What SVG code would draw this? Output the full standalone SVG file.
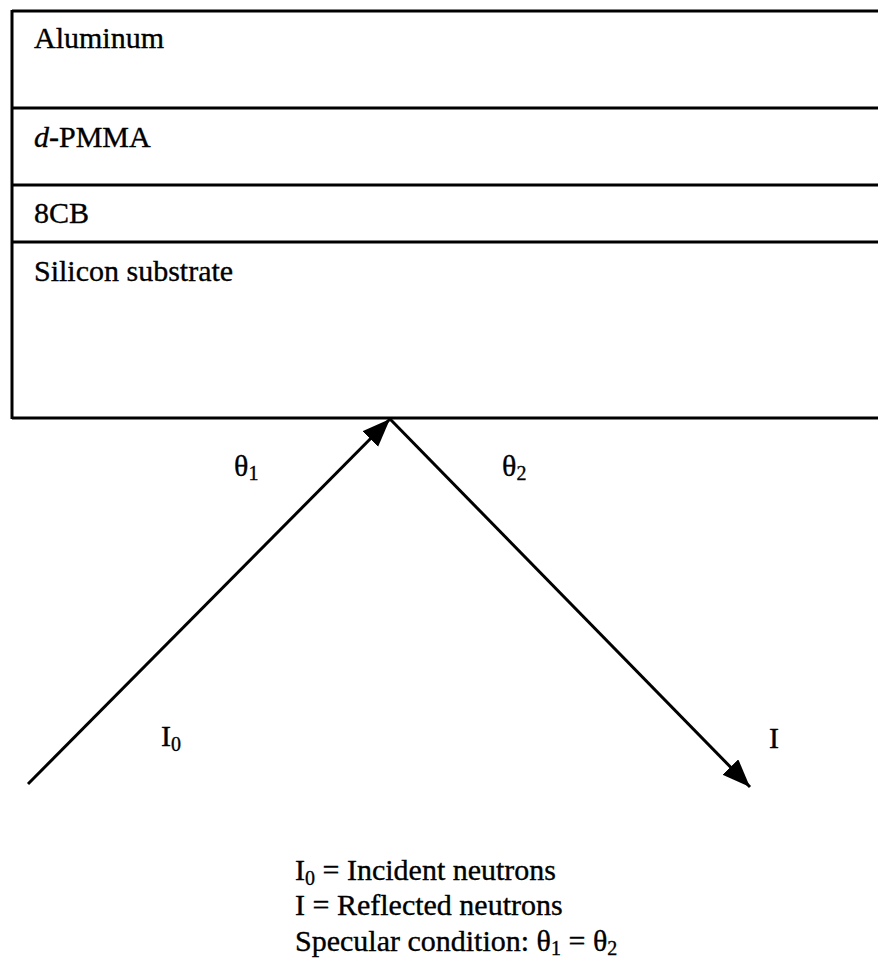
<svg xmlns="http://www.w3.org/2000/svg" width="878" height="965" viewBox="0 0 878 965">
<style>
text{font-family:"Liberation Serif","Times New Roman",serif;font-size:30px;fill:#000;stroke:#000;stroke-width:0.35}
.ln{stroke:#000;stroke-width:3;fill:none}
.sub{font-size:20px}
</style>
<defs>
<marker id="ah" markerUnits="userSpaceOnUse" markerWidth="30" markerHeight="24" refX="28" refY="11" orient="auto">
<path d="M0,0 L28,11 L0,22 Z" fill="#000"/>
</marker>
</defs>
<rect width="878" height="965" fill="#fff"/>
<g id="layers">
<line class="ln" x1="12" y1="11" x2="878" y2="11"/>
<line class="ln" x1="12" y1="108" x2="878" y2="108"/>
<line class="ln" x1="12" y1="185" x2="878" y2="185"/>
<line class="ln" x1="12" y1="242" x2="878" y2="242"/>
<line class="ln" x1="12" y1="418" x2="878" y2="418"/>
<line class="ln" x1="12" y1="10" x2="12" y2="419"/>
</g>
<g id="aluminum"><text x="34" y="48">Aluminum</text></g>
<g id="dpmma"><text x="34" y="147"><tspan font-style="italic">d</tspan>-PMMA</text></g>
<g id="cb8"><text x="34" y="223">8CB</text></g>
<g id="silicon"><text x="34" y="281">Silicon substrate</text></g>
<g id="connectors">
<line class="ln" x1="28" y1="784" x2="390" y2="419" marker-end="url(#ah)"/>
<line class="ln" x1="390" y1="419" x2="750" y2="787" marker-end="url(#ah)"/>
</g>
<g id="labels">
<text x="234" y="476">θ<tspan class="sub" dy="4">1</tspan></text>
<text x="502" y="476">θ<tspan class="sub" dy="4">2</tspan></text>
<text x="161" y="746">I<tspan class="sub" dy="5">0</tspan></text>
<text x="769" y="748">I</text>
</g>
<g id="legend">
<text x="295" y="880">I<tspan class="sub" dy="5">0</tspan><tspan dy="-5"> = Incident neutrons</tspan></text>
<text x="295" y="915">I = Reflected neutrons</text>
<text x="295" y="951">Specular condition:  θ<tspan class="sub" dy="4">1</tspan><tspan dy="-4"> = θ</tspan><tspan class="sub" dy="4">2</tspan></text>
</g>
</svg>
